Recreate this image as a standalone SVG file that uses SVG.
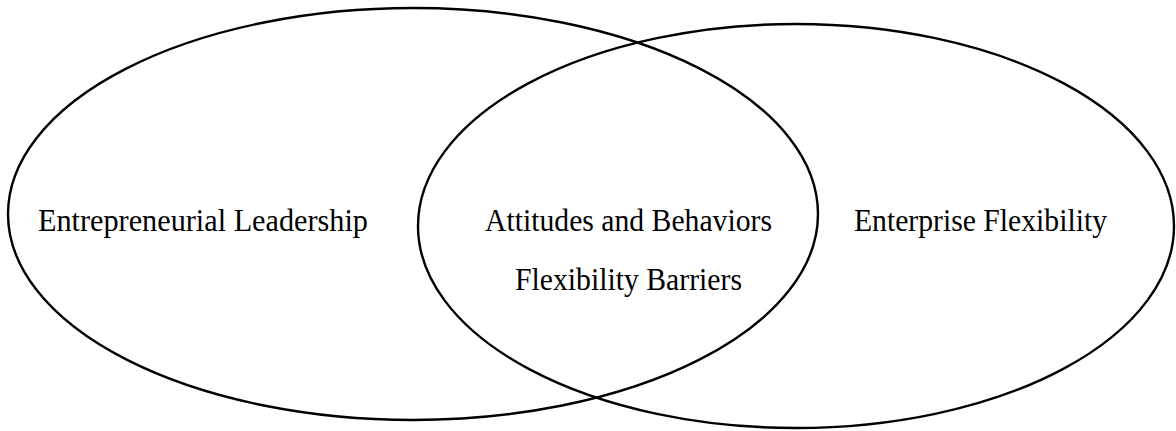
<svg xmlns="http://www.w3.org/2000/svg" width="1176" height="431" viewBox="0 0 1176 431">
  <style>
    .set { fill: none; stroke: #000; stroke-width: 2.4; }
    .label { font-family: "Liberation Serif", "DejaVu Serif", serif; font-size: 31px; fill: #000; }
  </style>
  <rect width="1176" height="431" fill="#fff"/>
  <!-- Two overlapping sets -->
  <g id="entrepreneurial-leadership">
    <ellipse class="set" cx="413" cy="214" rx="405" ry="206"/>
    <text class="label" x="38" y="231" textLength="330" lengthAdjust="spacingAndGlyphs">Entrepreneurial Leadership</text>
  </g>
  <g id="enterprise-flexibility">
    <ellipse class="set" cx="796" cy="226" rx="378" ry="202"/>
    <text class="label" x="854" y="231" textLength="253" lengthAdjust="spacingAndGlyphs">Enterprise Flexibility</text>
  </g>
  <!-- Overlap region labels -->
  <g id="overlap">
    <text class="label" x="485" y="231" textLength="287" lengthAdjust="spacingAndGlyphs">Attitudes and Behaviors</text>
    <text class="label" x="515" y="290" textLength="227" lengthAdjust="spacingAndGlyphs">Flexibility Barriers</text>
  </g>
  <g id="connectors"/>
</svg>
